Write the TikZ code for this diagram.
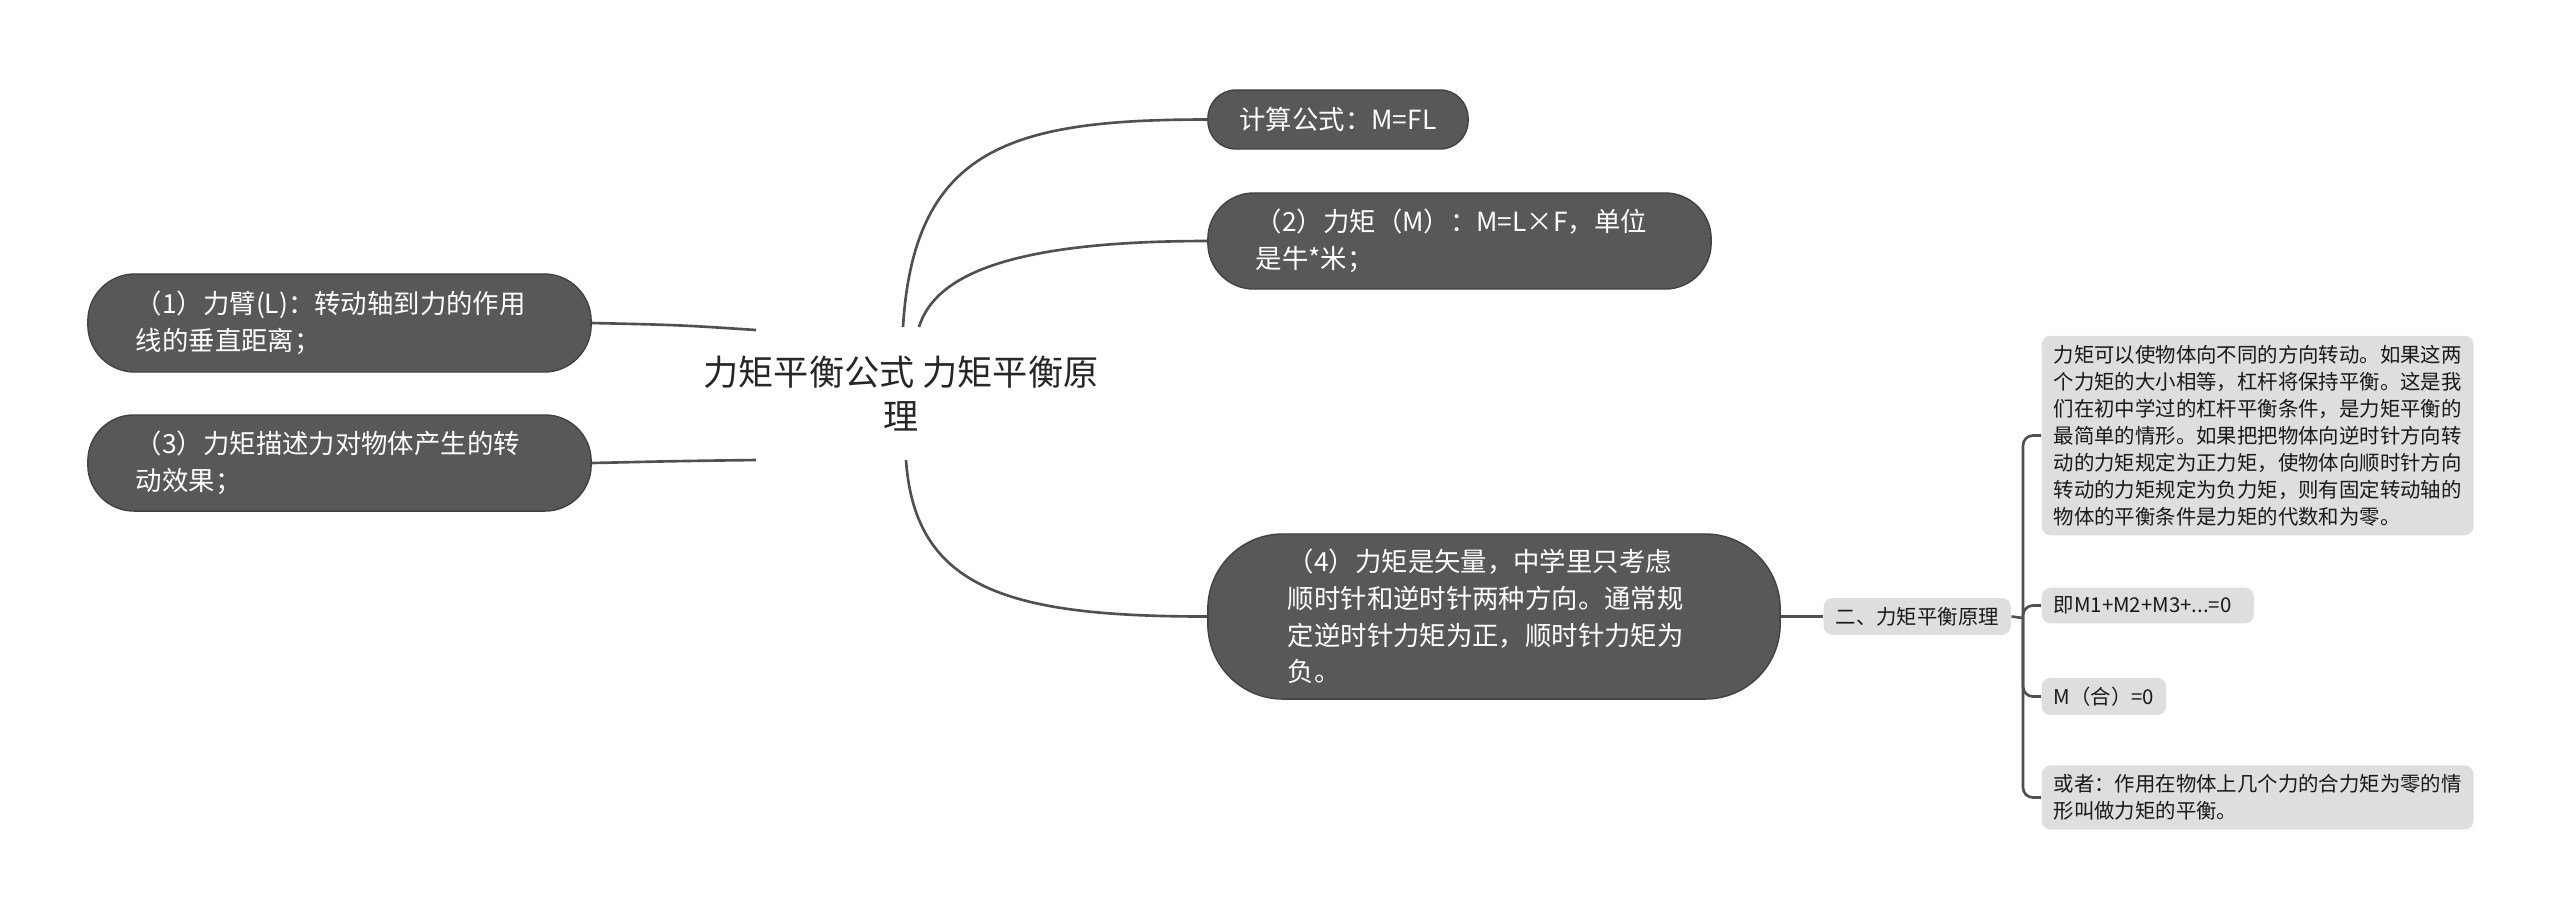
\documentclass[tikz,border=0pt]{standalone}
\usepackage{fontspec}
\setmainfont{Noto Sans CJK SC}
\usetikzlibrary{positioning}
\definecolor{grisOscuro}{RGB}{88,88,88}
\definecolor{grisBorde}{RGB}{66,66,66}
\definecolor{grisClaro}{RGB}{222,222,222}
\definecolor{grisLinea}{RGB}{80,80,80}

\begin{document}
\begin{tikzpicture}[
    x=0.01cm, y=-0.01cm,
    tema/.style={
        font=\fontsize{10pt}{12.5pt}\selectfont,
        text=black!85,
        align=center
    },
    rama/.style={
        rectangle,
        draw=grisBorde,
        fill=grisOscuro,
        text=white,
        font=\fontsize{7.5pt}{10.4pt}\selectfont,
        align=left,
        inner sep=0pt
    },
    hoja/.style={
        rectangle,
        rounded corners=0.09cm,
        fill=grisClaro,
        text=black!90,
        font=\fontsize{5.8pt}{7.7pt}\selectfont,
        align=left,
        inner xsep=0.12cm,
        inner ysep=0.09cm,
        anchor=west
    },
    enlace/.style={
        draw=grisLinea,
        line width=0.75pt
    }
]
    \useasboundingbox (0,0) rectangle (2560,923);

    \node[tema] (tema) at (901,394) {力矩平衡公式 力矩平衡原\\理};

    \node[rama, rounded corners=0.28cm, minimum width=2.6cm, minimum height=0.59cm] (calc) at (1338,119.5) {计算公式：M=FL};
    \node[rama, rounded corners=0.46cm, text width=4.07cm, minimum width=5.03cm, minimum height=0.96cm] (momento) at (1459.5,241) {（2）力矩（M）：M=L×F，单位\\是牛*米；};
    \node[rama, rounded corners=0.47cm, text width=4.07cm, minimum width=5.03cm, minimum height=0.98cm] (brazo) at (339.5,323) {（1）力臂(L)：转动轴到力的作用\\线的垂直距离；};
    \node[rama, rounded corners=0.46cm, text width=4.07cm, minimum width=5.03cm, minimum height=0.96cm] (efecto) at (339.5,463) {（3）力矩描述力对物体产生的转\\动效果；};
    \node[rama, rounded corners=0.75cm, text width=4.12cm, minimum width=5.72cm, minimum height=1.65cm] (vector) at (1494,616.5) {（4）力矩是矢量，中学里只考虑\\顺时针和逆时针两种方向。通常规\\定逆时针力矩为正，顺时针力矩为\\负。};

    \node[hoja, right=0.42cm of vector] (principio) {二、力矩平衡原理};

    \node[hoja] (texto) at (2041,435.5) {力矩可以使物体向不同的方向转动。如果这两\\个力矩的大小相等，杠杆将保持平衡。这是我\\们在初中学过的杠杆平衡条件，是力矩平衡的\\最简单的情形。如果把把物体向逆时针方向转\\动的力矩规定为正力矩，使物体向顺时针方向\\转动的力矩规定为负力矩，则有固定转动轴的\\物体的平衡条件是力矩的代数和为零。};
    \node[hoja, text width=1.88cm] (suma) at (2041,605.5) {即M1+M2+M3+...=0};
    \node[hoja] (total) at (2041,696.5) {M（合）=0};
    \node[hoja] (definicion) at (2041,797.5) {或者：作用在物体上几个力的合力矩为零的情\\形叫做力矩的平衡。};

    % puntos de salida junto al tema central
    \coordinate (izqA) at (756,330);
    \coordinate (izqB) at (756,460);
    \coordinate (derA) at (903,327);
    \coordinate (derB) at (919,327);
    \coordinate (derC) at (906,460);
    \coordinate (bifurca) at (2023,618);

    \draw[enlace] (izqA) .. controls (680,325) .. (brazo.east);
    \draw[enlace] (izqB) .. controls (680,461) .. (efecto.east);
    \draw[enlace] (derA) .. controls (914,147) and (1012,119.5) .. (calc.west);
    \draw[enlace] (derB) .. controls (935,275) and (1010,241) .. (momento.west);
    \draw[enlace] (derC) .. controls (915,590) and (1010,616.5) .. (vector.west);
    \draw[enlace] (vector.east) -- (principio.west);
    \draw[enlace] (principio.east) -- (bifurca);
    \foreach \hijo in {texto, suma, total, definicion}
        \draw[enlace, rounded corners=0.1cm] (bifurca) |- (\hijo.west);

\end{tikzpicture}
\end{document}
